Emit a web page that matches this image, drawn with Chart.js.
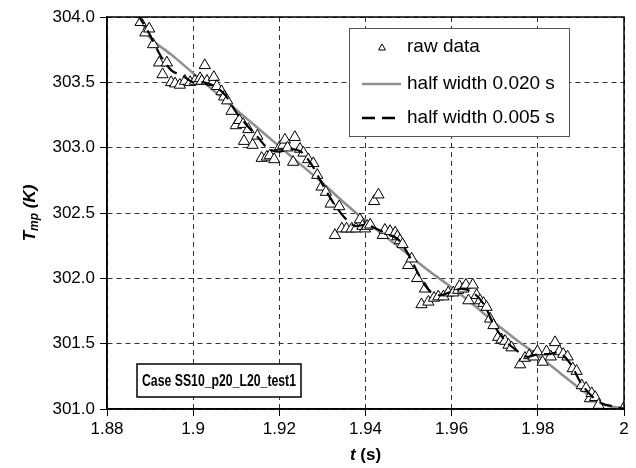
<!DOCTYPE html>
<html>
<head>
<meta charset="utf-8">
<script src="https://cdn.jsdelivr.net/npm/chart.js@4/dist/chart.umd.min.js"></script>
<style>
  html, body { margin: 0; padding: 0; background: #fff; }
  #wrap { width: 636px; height: 468px; }
</style>
</head>
<body>
<div id="wrap"><canvas id="tmpChart" width="636" height="468"></canvas></div>
<script>
// datos
const rawT = [1.8878, 1.8889, 1.8898, 1.8907, 1.8921, 1.8929, 1.8939, 1.8949, 1.8958, 1.8969,
  1.8981, 1.8993, 1.9004, 1.9016, 1.9020, 1.9027, 1.9032, 1.9045, 1.9048, 1.9055,
  1.9066, 1.9072, 1.9079, 1.9089, 1.9099, 1.9107, 1.9116, 1.9118, 1.9128, 1.9138,
  1.9149, 1.9159, 1.9171, 1.9178, 1.9188, 1.9202, 1.9209, 1.9213, 1.9219, 1.9232,
  1.9236, 1.9248, 1.9256, 1.9267, 1.9279, 1.9288, 1.9298, 1.9308, 1.9319, 1.9329,
  1.9339, 1.9345, 1.9356, 1.9368, 1.9378, 1.9387, 1.9393, 1.9399, 1.9404, 1.9411,
  1.9420, 1.9430, 1.9440, 1.9445, 1.9457, 1.9469, 1.9474, 1.9480, 1.9486, 1.9499,
  1.9507, 1.9520, 1.9530, 1.9538, 1.9546, 1.9559, 1.9569, 1.9581, 1.9592, 1.9604,
  1.9615, 1.9618, 1.9627, 1.9633, 1.9639, 1.9649, 1.9658, 1.9666, 1.9674, 1.9681,
  1.9689, 1.9697, 1.9708, 1.9716, 1.9724, 1.9732, 1.9739, 1.9759, 1.9770, 1.9780,
  1.9790, 1.9799, 1.9811, 1.9820, 1.9830, 1.9840, 1.9850, 1.9859, 1.9869, 1.9881,
  1.9890, 1.9902, 1.9912, 1.9921, 1.9925, 1.9933, 1.9941, 2.0000];
const rawTemp = [303.96, 303.88, 303.91, 303.79, 303.65, 303.56, 303.65, 303.50, 303.49, 303.48,
  303.51, 303.50, 303.51, 303.53, 303.51, 303.63, 303.51, 303.50, 303.54, 303.47,
  303.43, 303.39, 303.36, 303.28, 303.17, 303.21, 303.18, 303.05, 303.14, 303.02,
  303.09, 302.92, 302.93, 302.94, 302.91, 303.01, 303.02, 303.06, 303.00, 302.89,
  303.08, 302.99, 302.96, 302.91, 302.88, 302.79, 302.70, 302.66, 302.57, 302.33,
  302.55, 302.38, 302.38, 302.38, 302.38, 302.45, 302.40, 302.38, 302.40, 302.41,
  302.59, 302.64, 302.33, 302.37, 302.36, 302.35, 302.32, 302.29, 302.26, 302.10,
  302.15, 302.00, 301.80, 301.92, 301.82, 301.85, 301.86, 301.86, 301.89, 301.89,
  301.91, 301.94, 301.92, 301.95, 301.83, 301.95, 301.87, 301.83, 301.81, 301.78,
  301.69, 301.64, 301.55, 301.53, 301.52, 301.49, 301.47, 301.34, 301.39, 301.41,
  301.40, 301.44, 301.36, 301.44, 301.40, 301.51, 301.44, 301.42, 301.40, 301.31,
  301.29, 301.18, 301.16, 301.08, 301.12, 301.09, 301.03, 301.01];

// media movil, semiancho 0.020 s
const smooth20T = [1.888, 1.890, 1.895, 1.900, 1.905, 1.910, 1.915, 1.920, 1.925, 1.930, 1.935,
  1.940, 1.945, 1.950, 1.955, 1.960, 1.965, 1.970, 1.975, 1.980, 1.985, 1.990, 1.995, 2.000];
const smooth20Temp = [303.97, 303.84, 303.71, 303.57, 303.43, 303.29, 303.15, 303.01, 302.87, 302.73, 302.58,
  302.44, 302.31, 302.18, 302.05, 301.93, 301.80, 301.66, 301.53, 301.41, 301.28, 301.15, 301.04, 301.00];

// media movil, semiancho 0.005 s
const smooth05T = [1.8870, 1.8900, 1.8925, 1.8950, 1.8975, 1.9000, 1.9025, 1.9050, 1.9075, 1.9100,
  1.9125, 1.9150, 1.9175, 1.9200, 1.9225, 1.9250, 1.9275, 1.9300, 1.9325, 1.9350,
  1.9375, 1.9400, 1.9425, 1.9450, 1.9475, 1.9500, 1.9525, 1.9550, 1.9575, 1.9600,
  1.9625, 1.9650, 1.9675, 1.9700, 1.9725, 1.9750, 1.9775, 1.9800, 1.9825, 1.9850,
  1.9875, 1.9900, 1.9925, 1.9950, 1.9975, 2.0000];
const smooth05Temp = [304.03, 303.86, 303.70, 303.59, 303.55, 303.50, 303.50, 303.47, 303.40, 303.27,
  303.17, 303.08, 302.99, 302.97, 302.99, 302.97, 302.87, 302.72, 302.58, 302.47,
  302.40, 302.41, 302.38, 302.34, 302.30, 302.18, 302.02, 301.90, 301.87, 301.90,
  301.92, 301.89, 301.80, 301.63, 301.52, 301.45, 301.40, 301.42, 301.42, 301.43,
  301.35, 301.20, 301.10, 301.04, 301.02, 301.00];

const xTicks = [1.88, 1.90, 1.92, 1.94, 1.96, 1.98, 2.00];
const xTickLabels = ["1.88", "1.9", "1.92", "1.94", "1.96", "1.98", "2"];
const yTicks = [301.0, 301.5, 302.0, 302.5, 303.0, 303.5, 304.0];
const yTickLabels = ["301.0", "301.5", "302.0", "302.5", "303.0", "303.5", "304.0"];
const seriesNames = ["raw data", "half width 0.020 s", "half width 0.005 s"];
const caseLabel = "Case SS10_p20_L20_test1";

const FONT = "'Liberation Sans', Arial, Helvetica, sans-serif";
const GRAY = "#8f8f8f";

const toXY = (xs, ys) => xs.map((x, i) => ({ x: x, y: ys[i] }));

// marco, leyenda, etiqueta del caso y titulos de ejes
const extras = {
  id: "extras",
  afterDraw(chart) {
    const ctx = chart.ctx;
    const a = chart.chartArea;
    ctx.save();

    // marco completo
    ctx.strokeStyle = "#000";
    ctx.lineWidth = 1.5;
    ctx.setLineDash([]);
    ctx.strokeRect(a.left, a.top, a.right - a.left, a.bottom - a.top);

    // leyenda
    const lx = 349, ly = 28, lw = 220, lh = 108;
    ctx.fillStyle = "#fff";
    ctx.fillRect(lx, ly, lw, lh);
    ctx.strokeStyle = "#555";
    ctx.lineWidth = 1;
    ctx.strokeRect(lx + 0.5, ly + 0.5, lw, lh);

    ctx.textBaseline = "middle";
    ctx.textAlign = "left";
    const rows = [47, 84, 118];

    ctx.fillStyle = "#fff";
    ctx.strokeStyle = "#000";
    Chart.helpers.drawPoint(ctx, { pointStyle: "triangle", radius: 4, borderWidth: 1 }, 382, rows[0] + 1);

    ctx.lineWidth = 2.5;
    ctx.strokeStyle = GRAY;
    ctx.beginPath(); ctx.moveTo(362, rows[1]); ctx.lineTo(401, rows[1]); ctx.stroke();

    ctx.lineWidth = 2.5;
    ctx.strokeStyle = "#000";
    ctx.setLineDash([13, 7]);
    ctx.beginPath(); ctx.moveTo(362, rows[2]); ctx.lineTo(402, rows[2]); ctx.stroke();
    ctx.setLineDash([]);

    ctx.font = "19px " + FONT;
    ctx.fillStyle = "#000";
    seriesNames.forEach((n, i) => ctx.fillText(n, 407, rows[i]));

    // caja del caso
    const bx = 137, by = 364, bw = 164, bh = 33;
    ctx.fillStyle = "#fff";
    ctx.fillRect(bx, by, bw, bh);
    ctx.strokeStyle = "#000";
    ctx.lineWidth = 1.5;
    ctx.strokeRect(bx, by, bw, bh);
    ctx.fillStyle = "#000";
    ctx.font = "bold 17px " + FONT;
    ctx.fillText(caseLabel, bx + 5, by + bh / 2 + 1, bw - 10);

    // titulo eje x
    ctx.font = "bold italic 17px " + FONT;
    const t1 = "t", t2 = " (s)";
    const w1 = ctx.measureText(t1).width;
    ctx.font = "bold 17px " + FONT;
    const w2 = ctx.measureText(t2).width;
    let sx = (a.left + a.right) / 2 - (w1 + w2) / 2;
    ctx.font = "bold italic 17px " + FONT;
    ctx.fillText(t1, sx, 455);
    ctx.font = "bold 17px " + FONT;
    ctx.fillText(t2, sx + w1, 455);

    // titulo eje y (T con subindice mp)
    ctx.translate(30, (a.top + a.bottom) / 2);
    ctx.rotate(-Math.PI / 2);
    ctx.font = "bold italic 17px " + FONT;
    const wa = ctx.measureText("T").width;
    ctx.font = "bold italic 12px " + FONT;
    const wb = ctx.measureText("mp").width;
    ctx.font = "bold italic 17px " + FONT;
    const wc = ctx.measureText(" (K)").width;
    let px = -(wa + wb + wc) / 2;
    ctx.fillText("T", px, 0);
    ctx.font = "bold italic 12px " + FONT;
    ctx.fillText("mp", px + wa, 5);
    ctx.font = "bold italic 17px " + FONT;
    ctx.fillText(" (K)", px + wa + wb, 0);

    ctx.restore();
  }
};

const ctx = document.getElementById("tmpChart").getContext("2d");

window.tmpChartInstance = new Chart(ctx, {
  type: "scatter",
  data: {
    datasets: [
      {
        label: seriesNames[2],
        data: toXY(smooth05T, smooth05Temp),
        showLine: true,
        borderColor: "#000",
        borderWidth: 2.2,
        borderDash: [13, 7],
        pointRadius: 0,
        tension: 0.3,
        order: 0
      },
      {
        label: seriesNames[0],
        data: toXY(rawT, rawTemp),
        pointStyle: "triangle",
        pointRadius: 6.5,
        pointBorderWidth: 1,
        pointBorderColor: "#000",
        pointBackgroundColor: "#fff",
        order: 1
      },
      {
        label: seriesNames[1],
        data: toXY(smooth20T, smooth20Temp),
        showLine: true,
        borderColor: GRAY,
        borderWidth: 2.5,
        pointRadius: 0,
        tension: 0.3,
        order: 2
      }
    ]
  },
  options: {
    responsive: false,
    animation: false,
    events: [],
    layout: { padding: { left: 0, top: 17, right: 12, bottom: 0 } },
    plugins: {
      legend: { display: false },
      tooltip: { enabled: false }
    },
    scales: {
      x: {
        type: "linear",
        min: 1.88,
        max: 2.0,
        afterBuildTicks: s => { s.ticks = xTicks.map(v => ({ value: v })); },
        afterFit: s => { s.height = 59; },
        ticks: {
          autoSkip: false,
          maxRotation: 0,
          padding: 3,
          color: "#000",
          font: { family: FONT, size: 17 },
          callback: (v, i) => xTickLabels[i]
        },
        grid: { color: "#333", lineWidth: 1, tickLength: 7, tickColor: "#000", tickBorderDash: [] },
        border: { display: true, color: "#000", width: 1.5, dash: [5, 4] }
      },
      y: {
        type: "linear",
        min: 301,
        max: 304,
        afterBuildTicks: s => { s.ticks = yTicks.map(v => ({ value: v })); },
        afterFit: s => { s.width = 107; },
        ticks: {
          autoSkip: false,
          padding: 5,
          color: "#000",
          font: { family: FONT, size: 17 },
          callback: (v, i) => yTickLabels[i]
        },
        grid: { color: "#333", lineWidth: 1, tickLength: 7, tickColor: "#000", tickBorderDash: [] },
        border: { display: true, color: "#000", width: 1.5, dash: [5, 4] }
      }
    }
  },
  plugins: [extras]
});
</script>
</body>
</html>
